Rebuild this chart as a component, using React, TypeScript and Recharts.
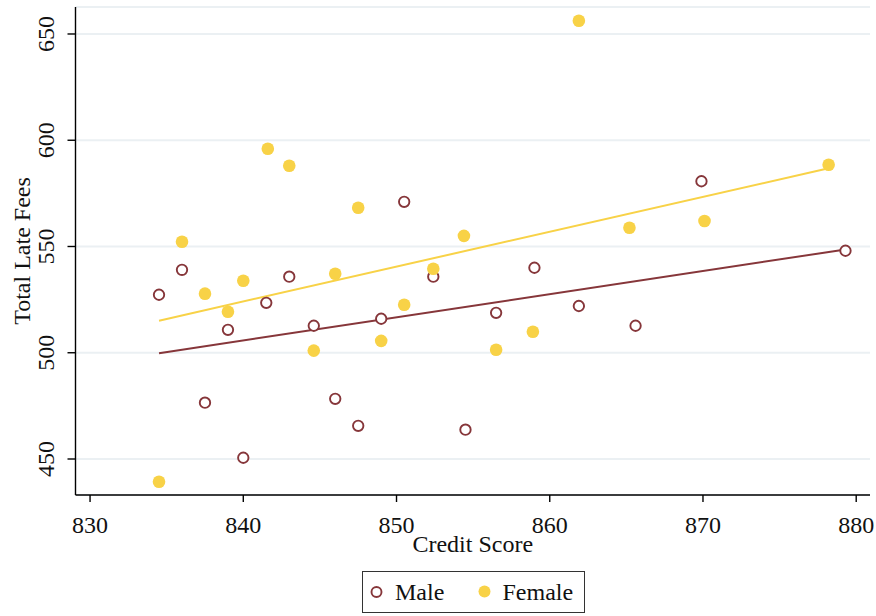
import React from "react";
import { ComposedChart, Scatter, XAxis, YAxis, CartesianGrid } from "recharts";

// Credit score vs. total late fees, split by gender
const maleScore = [834.5, 836.0, 837.5, 839.0, 840.0, 841.5, 843.0, 844.6, 846.0, 847.5, 849.0, 850.5, 852.4, 854.5, 856.5, 859.0, 861.9, 865.6, 869.9, 879.3];
const maleFees = [527.3, 539.0, 476.5, 510.8, 450.6, 523.5, 535.8, 512.7, 478.3, 465.6, 516.0, 571.0, 535.8, 463.8, 518.8, 540.0, 522.0, 512.7, 580.7, 548.0];

const femaleScore = [834.5, 836.0, 837.5, 839.0, 840.0, 841.6, 843.0, 844.6, 846.0, 847.5, 849.0, 850.5, 852.4, 854.4, 856.5, 858.9, 861.9, 865.2, 870.1, 878.2];
const femaleFees = [439.3, 552.2, 527.8, 519.3, 533.9, 596.0, 588.0, 501.0, 537.2, 568.2, 505.6, 522.6, 539.5, 555.0, 501.4, 509.9, 656.2, 558.8, 562.0, 588.5];

// Linear fit endpoints for each group
const maleFitScore = [834.5, 879.3];
const maleFitFees = [499.8, 548.6];
const femaleFitScore = [834.5, 878.2];
const femaleFitFees = [515.1, 586.8];

const xTicks = [830, 840, 850, 860, 870, 880];
const yTicks = [450, 500, 550, 600, 650];

const MALE = "#86363a";
const FEMALE = "#f8d247";
const FONT = "Liberation Serif, DejaVu Serif, serif";
const FONT_SIZE = 24;

const toPoints = (xs: number[], ys: number[]) => xs.map((x, i) => ({ x, y: ys[i] }));

const maleData = toPoints(maleScore, maleFees);
const femaleData = toPoints(femaleScore, femaleFees);
const maleFit = toPoints(maleFitScore, maleFitFees);
const femaleFit = toPoints(femaleFitScore, femaleFitFees);

const HollowDot = (props: any) => (
  <circle cx={props.cx} cy={props.cy} r={5.2} fill="#fff" stroke={MALE} strokeWidth={1.9} />
);
const SolidDot = (props: any) => (
  <circle cx={props.cx} cy={props.cy} r={6.3} fill={FEMALE} stroke="none" />
);
const NoDot = () => <g />;

const textStyle = { fontFamily: FONT, fontSize: FONT_SIZE };

const XTick = (props: any) => (
  <text
    x={props.x}
    y={props.y}
    textAnchor="middle"
    fontFamily={FONT}
    fontSize={FONT_SIZE}
    style={textStyle}
    fill="#111"
  >
    {props.payload.value}
  </text>
);

const YTick = (props: any) => (
  <text
    x={props.x}
    y={props.y}
    transform={`rotate(-90 ${props.x} ${props.y})`}
    textAnchor="middle"
    fontFamily={FONT}
    fontSize={FONT_SIZE}
    style={textStyle}
    fill="#111"
  >
    {props.payload.value}
  </text>
);

export default function App() {
  return (
    <div style={{ position: "absolute", left: 0, top: 0, width: 876, height: 616, background: "#fff", fontFamily: FONT }}>
      <ComposedChart width={876} height={616} margin={{ top: 7, right: 6, bottom: 0, left: 0 }} style={{ fontFamily: FONT }}>
        <CartesianGrid vertical={false} stroke="#ebf0f3" strokeWidth={2} />
        <XAxis
          type="number"
          dataKey="x"
          domain={[829.05, 880.9]}
          ticks={xTicks}
          allowDataOverflow
          height={121}
          tickSize={7}
          tickMargin={31}
          axisLine={{ stroke: "#000", strokeWidth: 1.4 }}
          tickLine={{ stroke: "#000", strokeWidth: 1.4 }}
          tick={<XTick />}
          label={{ value: "Credit Score", position: "insideTop", offset: 40, style: textStyle, fill: "#111" }}
        />
        <YAxis
          type="number"
          dataKey="y"
          domain={[433.06, 662.7]}
          ticks={yTicks}
          allowDataOverflow
          width={75.5}
          tickSize={8}
          tickMargin={13}
          axisLine={{ stroke: "#000", strokeWidth: 1.4 }}
          tickLine={{ stroke: "#000", strokeWidth: 1.4 }}
          tick={<YTick />}
          label={{ value: "Total Late Fees", angle: -90, position: "insideLeft", offset: 21, fill: "#111", style: { ...textStyle, textAnchor: "middle" } }}
        />
        <Scatter data={maleFit} line={{ stroke: MALE, strokeWidth: 2 }} shape={<NoDot />} isAnimationActive={false} legendType="none" />
        <Scatter data={femaleFit} line={{ stroke: FEMALE, strokeWidth: 2 }} shape={<NoDot />} isAnimationActive={false} legendType="none" />
        <Scatter name="Male" data={maleData} shape={<HollowDot />} isAnimationActive={false} />
        <Scatter name="Female" data={femaleData} shape={<SolidDot />} isAnimationActive={false} />
      </ComposedChart>
      <div
        style={{
          position: "absolute",
          left: 362,
          top: 571,
          width: 223,
          height: 42,
          boxSizing: "border-box",
          border: "1.5px solid #333",
          background: "#fff",
        }}
      >
        <svg width={220} height={39} style={{ position: "absolute", left: 0, top: 0 }}>
          <circle cx={13.5} cy={20} r={5} fill="#fff" stroke={MALE} strokeWidth={1.9} />
          <text x={32} y={28} fontFamily={FONT} fontSize={FONT_SIZE} style={textStyle} fill="#111">Male</text>
          <circle cx={121.5} cy={19.5} r={6} fill={FEMALE} />
          <text x={139.5} y={28} fontFamily={FONT} fontSize={FONT_SIZE} style={textStyle} fill="#111">Female</text>
        </svg>
      </div>
    </div>
  );
}
